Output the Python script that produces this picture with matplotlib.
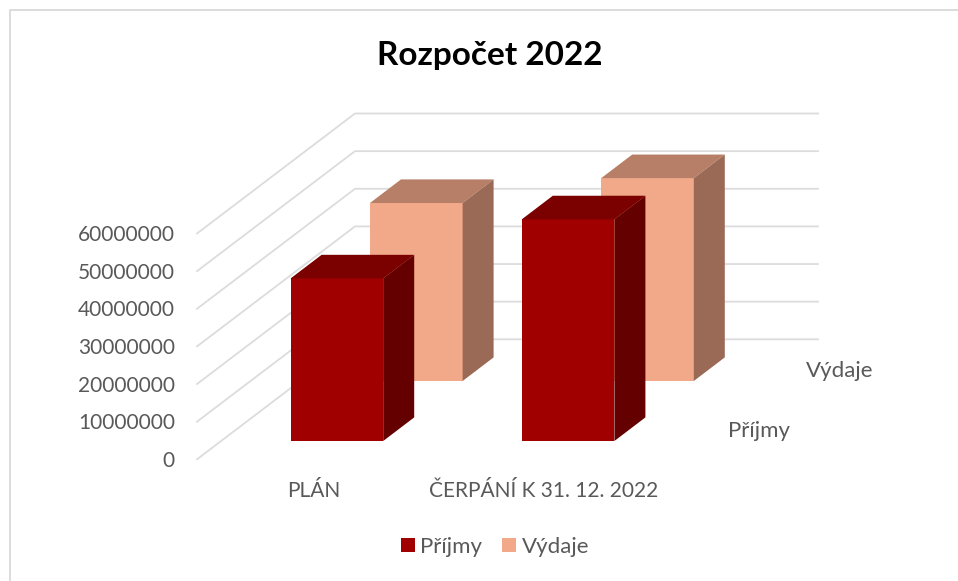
import matplotlib
matplotlib.use("Agg")
import matplotlib.pyplot as plt
from matplotlib.patches import Patch, Polygon

plt.rcParams["font.family"] = ["Lato", "DejaVu Sans"]

title = "Rozpočet 2022"
categories = ["PLÁN", "ČERPÁNÍ K 31. 12. 2022"]
series_names = ["Příjmy", "Výdaje"]
prijmy = [43200000, 58900000]
vydaje = [47300000, 53900000]
yticks = [0, 10000000, 20000000, 30000000, 40000000, 50000000, 60000000]

text_color = "#595959"
grid_color = "#dcdcdc"
# front, top, side
colors = [("#a00000", "#7b0000", "#640000"), ("#f2a98a", "#b77f68", "#9a6a56")]

# oblique projection of the 3d chart, in pixels
scale = 225.8 / 60000000
floor_x, floor_y = 197, 459.3
back_x, back_y, right_x = 355, 339.3, 818
cat_step = 231.2
bar_w = 92.6
bar_x0, bar_y0 = 290.6, 441
series_dx, series_dy = 79.4, -60
depth_dx, depth_dy = 31, -23.6


def draw_bar(ax, cat, ser, value, zorder):
    x0 = bar_x0 + cat * cat_step + ser * series_dx
    x1 = x0 + bar_w
    y0 = bar_y0 + ser * series_dy
    y1 = y0 - value * scale
    front, top, side = colors[ser]
    ax.add_patch(Polygon([(x0, y0), (x1, y0), (x1, y1), (x0, y1)], fc=front, ec="none", zorder=zorder))
    ax.add_patch(Polygon([(x0, y1), (x1, y1), (x1 + depth_dx, y1 + depth_dy), (x0 + depth_dx, y1 + depth_dy)],
                         fc=top, ec="none", zorder=zorder))
    ax.add_patch(Polygon([(x1, y0), (x1 + depth_dx, y0 + depth_dy), (x1 + depth_dx, y1 + depth_dy), (x1, y1)],
                         fc=side, ec="none", zorder=zorder))


fig = plt.figure(figsize=(9.58, 5.81), dpi=100)
ax = fig.add_axes([0, 0, 1, 1])
ax.set_xlim(0, 958)
ax.set_ylim(581, 0)
ax.axis("off")

# chart frame
ax.plot([10, 10, 958], [581, 10, 10], color="#d9d9d9", lw=1.3)

ax.text(490, 55, title, ha="center", va="center", fontsize=24, fontweight="bold", color="black")

# gridlines and value labels
for v in yticks:
    h = v * scale
    ax.plot([floor_x, back_x, right_x], [floor_y - h, back_y - h, back_y - h], color=grid_color, lw=1.3, zorder=1)
    ax.text(175, floor_y + 1.5 - h, str(v), ha="right", va="center", fontsize=15, color=text_color)

# back row first so the front row covers it
for i, v in enumerate(vydaje):
    draw_bar(ax, i, 1, v, 2 + i)
for i, v in enumerate(prijmy):
    draw_bar(ax, i, 0, v, 4 + i)

ax.text(313.5, 491, categories[0], ha="center", va="center", fontsize=15, color=text_color)
ax.text(544, 491, categories[1], ha="center", va="center", fontsize=15, color=text_color)
ax.text(759, 431, series_names[0], ha="center", va="center", fontsize=16, color=text_color)
ax.text(840, 371, series_names[1], ha="center", va="center", fontsize=16, color=text_color)

handles = [Patch(fc=colors[0][0], label=series_names[0]), Patch(fc=colors[1][0], label=series_names[1])]
ax.legend(handles=handles, loc="center", bbox_to_anchor=(495, 547), bbox_transform=ax.transData, ncol=2,
          frameon=False, fontsize=16, labelcolor=text_color, handlelength=0.63, handleheight=0.63,
          handletextpad=0.25, columnspacing=0.9)

fig.savefig("out.png", dpi=100)
